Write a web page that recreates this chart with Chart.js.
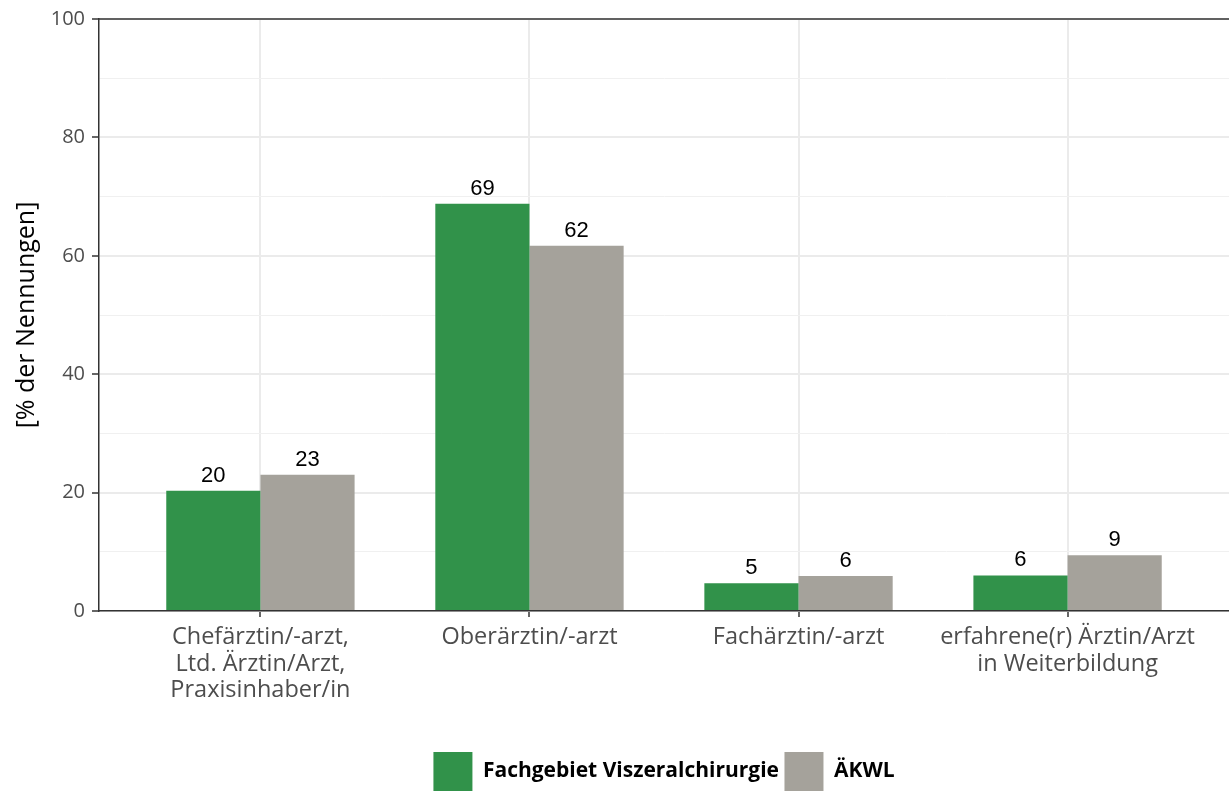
<!DOCTYPE html>
<html>
<head>
<meta charset="utf-8">
<script src="https://cdn.jsdelivr.net/npm/chart.js@4/dist/chart.umd.min.js"></script>
<style>
html,body{margin:0;padding:0;background:#fff;}
#wrap{width:1229px;height:791px;}
</style>
</head>
<body>
<div id="wrap"><canvas id="c" width="1229" height="791"></canvas></div>
<script>
const categories = [
  ["Chefärztin/-arzt,", "Ltd. Ärztin/Arzt,", "Praxisinhaber/in"],
  ["Oberärztin/-arzt"],
  ["Fachärztin/-arzt"],
  ["erfahrene(r) Ärztin/Arzt", "in Weiterbildung"]
];
const seriesNames = ["Fachgebiet Viszeralchirurgie", "ÄKWL"];
const visceralValues = [20.3, 68.8, 4.7, 6.0];
const aekwlValues = [23.0, 61.7, 5.9, 9.4];
const yTicks = [0, 20, 40, 60, 80, 100];

const GREEN = '#31924a';
const GRAY = '#a5a29b';

const topBorder = {
  id: 'topBorder',
  afterDraw(chart) {
    const {ctx, chartArea} = chart;
    ctx.save();
    ctx.strokeStyle = '#333333';
    ctx.lineWidth = 1.5;
    ctx.beginPath();
    ctx.moveTo(chartArea.left, chartArea.top);
    ctx.lineTo(chartArea.right, chartArea.top);
    ctx.stroke();
    ctx.restore();
  }
};

const valueLabels = {
  id: 'valueLabels',
  afterDatasetsDraw(chart) {
    const ctx = chart.ctx;
    ctx.save();
    ctx.font = '22px "Liberation Sans", Arial, sans-serif';
    ctx.fillStyle = '#000';
    ctx.textAlign = 'center';
    ctx.textBaseline = 'alphabetic';
    chart.data.datasets.forEach((ds, di) => {
      const meta = chart.getDatasetMeta(di);
      meta.data.forEach((el, i) => {
        const v = ds.data[i].y;
        ctx.fillText(String(Math.round(v)), el.x, el.y - 9);
      });
    });
    ctx.restore();
  }
};

const toPoints = arr => arr.map((v, i) => ({x: i, y: v}));

new Chart(document.getElementById('c'), {
  type: 'bar',
  data: {
    datasets: [
      {label: seriesNames[0], data: toPoints(visceralValues), backgroundColor: GREEN, borderWidth: 0,
       categoryPercentage: 0.7, barPercentage: 1.0},
      {label: seriesNames[1], data: toPoints(aekwlValues), backgroundColor: GRAY, borderWidth: 0,
       categoryPercentage: 0.7, barPercentage: 1.0}
    ]
  },
  plugins: [topBorder, valueLabels],
  options: {
    responsive: false,
    animation: false,
    layout: {padding: {top: 18, right: 0, bottom: -10, left: 0}},
    plugins: {
      tooltip: {enabled: false},
      legend: {
        position: 'bottom',
        fullSize: false,
        labels: {
          boxWidth: 39, boxHeight: 39, padding: 0,
          color: '#000',
          font: {family: '"Open Sans", sans-serif', size: 21, weight: 'bold'},
          generateLabels: chart => Chart.defaults.plugins.legend.labels.generateLabels(chart)
            .map((it, i) => ({...it, text: i === 0 ? it.text + ' ' : it.text}))
        }
      }
    },
    scales: {
      x: {
        type: 'linear',
        min: -0.6, max: 3.6,
        offset: false,
        afterBuildTicks: axis => { axis.ticks = categories.map((c, i) => ({value: i})); },
        afterFit: axis => { axis.height = 141; },
        grid: {offset: false, color: '#ebebeb', lineWidth: 2, tickColor: '#333333', tickLength: 6, tickWidth: 1.5, drawOnChartArea: true},
        border: {color: '#333333', width: 1.5},
        ticks: {
          autoSkip: false, maxRotation: 0, padding: 7,
          color: '#4d4d4d',
          font: {family: '"Open Sans", sans-serif', size: 23.5, lineHeight: 1.13},
          callback: v => categories[v] || ''
        }
      },
      y: {
        min: 0, max: 100,
        afterBuildTicks: axis => {
          const t = [];
          for (let v = 0; v <= 100; v += 10) t.push({value: v});
          axis.ticks = t;
        },
        afterFit: axis => { axis.width = 99; },
        grid: {
          color: ctx => (ctx.tick && yTicks.includes(ctx.tick.value)) ? '#ebebeb' : '#f0f0f0',
          lineWidth: ctx => (ctx.tick && yTicks.includes(ctx.tick.value)) ? 2 : 1,
          tickColor: ctx => (ctx.tick && yTicks.includes(ctx.tick.value)) ? '#333333' : 'rgba(0,0,0,0)',
          tickLength: 7, tickWidth: 1.5
        },
        border: {color: '#333333', width: 1.5},
        ticks: {
          padding: 7,
          color: '#4d4d4d',
          font: {family: '"Open Sans", sans-serif', size: 20},
          callback: v => yTicks.includes(v) ? String(v) : ''
        },
        title: {
          display: true, text: '[% der Nennungen]', color: '#000',
          font: {family: '"Open Sans", sans-serif', size: 25, lineHeight: 1.2},
          padding: {top: 12, bottom: 0}
        }
      }
    }
  }
});
</script>
</body>
</html>
